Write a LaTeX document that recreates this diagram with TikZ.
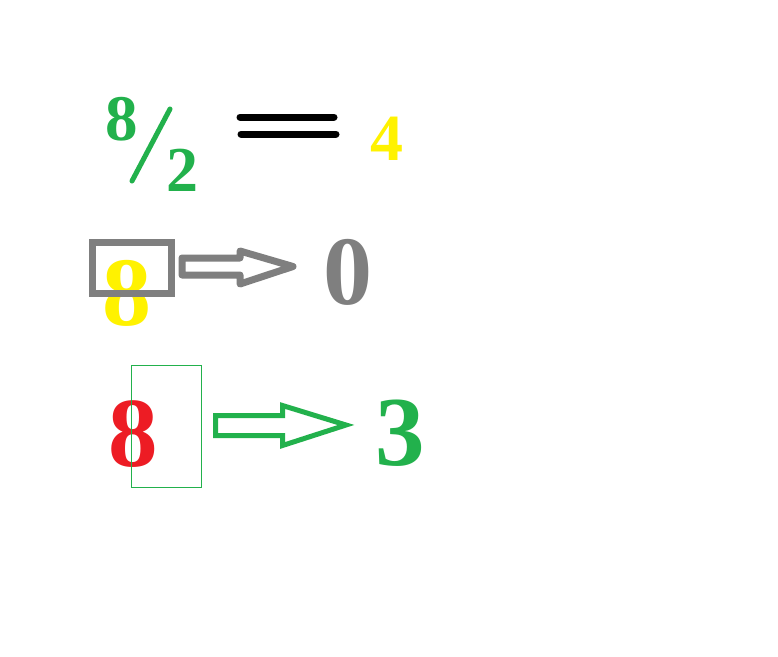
\documentclass[tikz,border=0pt]{standalone}
\usepackage{fontspec}
\setmainfont{Liberation Serif}
\definecolor{pgreen}{RGB}{34,177,76}
\definecolor{pyellow}{RGB}{255,242,0}
\definecolor{pgray}{RGB}{127,127,127}
\definecolor{pred}{RGB}{237,28,36}
\tikzset{
  digit/.style={inner sep=0pt, anchor=base, font=\bfseries\fontsize{#1}{#1}\selectfont},
}
\begin{document}
\begin{tikzpicture}[x=1pt,y=-1pt]
\useasboundingbox (0,0) rectangle (778,656);
\fill[white] (0,0) rectangle (778,656);
% row 1
\node[digit=65, text=pgreen] (e8) at (122,140) {8};
\node[digit=64, text=pgreen] (e2) at (182,191) {2};
\draw[pgreen, line width=5pt, line cap=round] (132,181) -- (170,109);
\draw[black, line width=7pt, line cap=round] (240,117) -- (334,117);
\draw[black, line width=7pt, line cap=round] (241,134) -- (336,134);
\node[digit=66, text=pyellow] (e4) at (387,160) {4};
% row 2
\node[digit=98, text=pyellow] (y8) at (127,325) {8};
\draw[pgray, line width=7pt] (92.5,242.5) rectangle (171.5,293.5);
\draw[pgray, line width=7pt, line join=round]
  (182,258) -- (240,258) -- (240,251) -- (293,266.5) -- (240,284) -- (240,275) -- (182,275) -- cycle;
\node[digit=98, text=pgray] (g0) at (348,304) {0};
% row 3
\node[digit=99, text=pred] (r8) at (133,466) {8};
\draw[pgreen, line width=1pt] (131.5,365.5) rectangle (201.5,487.5);
\draw[pgreen, line width=5pt, line join=miter]
  (215.5,415.5) -- (282.5,415.5) -- (282.5,405.5) -- (346,425) -- (282.5,445.5) -- (282.5,435.5) -- (215.5,435.5) -- cycle;
\node[digit=99, text=pgreen] (g3) at (400,465) {3};
\end{tikzpicture}
\end{document}
